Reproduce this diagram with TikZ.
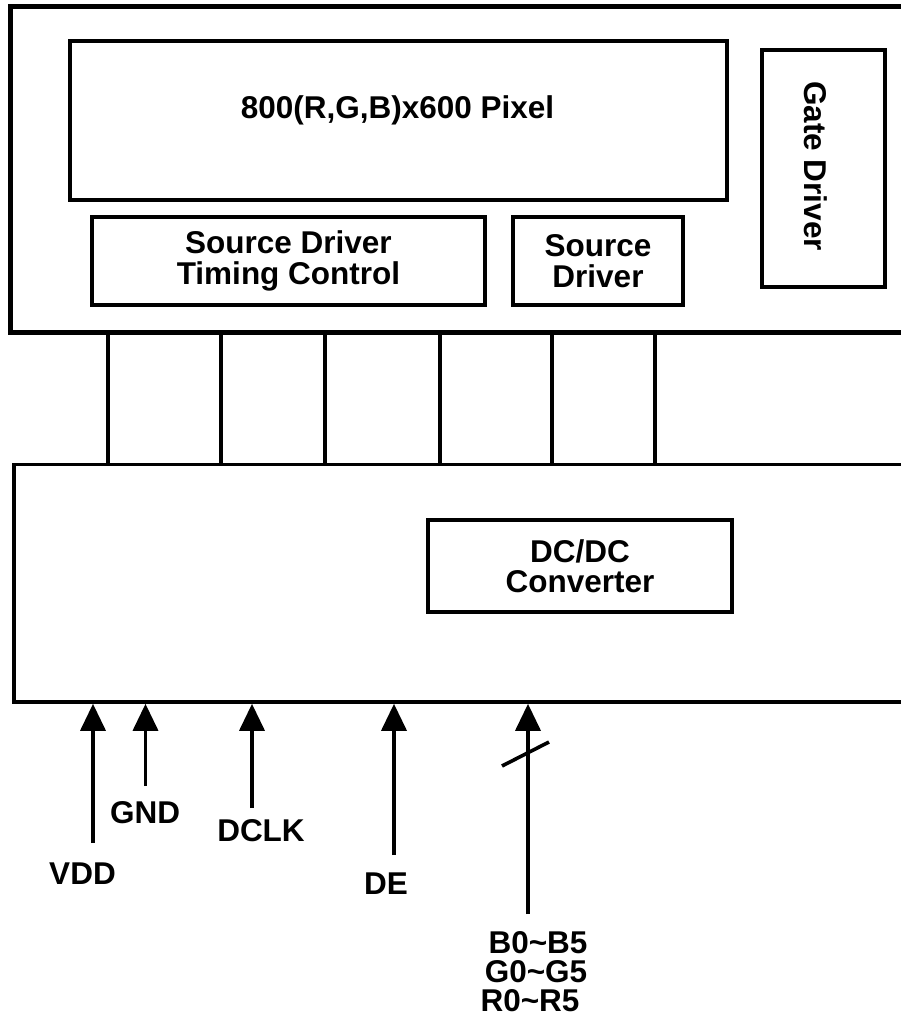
\documentclass[tikz,border=0pt]{standalone}
\usepackage{fontspec}
\setmainfont{Liberation Sans}
\usetikzlibrary{arrows.meta}

\tikzset{
  blk/.style={draw, line width=3.6pt, inner sep=0pt, align=center},
  frame/.style={draw, line width=#1, inner sep=0pt},
  wire/.style={line width=3.6pt},
  sig/.style={line width=3.6pt, -{Triangle[length=27pt,width=25pt]}},
  lbl/.style={inner sep=0pt}
}

\begin{document}
\begin{tikzpicture}[x=1pt, y=-1pt, font=\fontsize{31.5}{30.5}\selectfont\bfseries]
    \useasboundingbox (0,0) rectangle (901,1021);

    % Panel and its blocks
    \node[frame=5pt, minimum width=940, minimum height=326] (panel) at (480,169) {};
    \node[blk, minimum width=657, minimum height=159] (pixel) at (398.5,120.5) {};
    \node[lbl] (pixtxt) at (397.5,110) {800(R,G,B)x600 Pixel};
    \node[blk, minimum width=123, minimum height=237] (gate) at (823.5,168.5) {};
    \node[lbl, rotate=-90] (gatetxt) at (816,166) {Gate Driver};
    \node[blk, minimum width=393, minimum height=88] (sdtc) at (288.5,261) {Source Driver\\Timing Control};
    \node[blk, minimum width=170, minimum height=88] (sd) at (598,261) {Source\\Driver};

    % Board with DC/DC
    \node[frame=3.6pt, minimum width=936, minimum height=237.5] (board) at (482,583.25) {};
    \node[blk, minimum width=304, minimum height=92] (dcdc) at (580,566) {DC/DC\\Converter};

    % Panel to board connections
    \foreach \x [count=\i] in {108,221,325,440,552,655} {
        \coordinate (tap\i) at (\x,400);
        \draw[wire] (tap\i |- panel.south) -- (tap\i |- board.north);
    }

    % Input signals
    \coordinate (vddin) at (93,843);
    \coordinate (gndin) at (145.5,786);
    \coordinate (clkin) at (252,808);
    \coordinate (dein) at (394,855);
    \coordinate (rgbin) at (528,914);
    \foreach \s in {vddin,gndin,clkin,dein,rgbin}
        \draw[sig] (\s) -- (\s |- board.south);
    \draw[wire] (502,766) -- (549,742); % bus mark

    \node[lbl] (vdd) at (82.5,873.5) {VDD};
    \node[lbl] (gnd) at (145,812.5) {GND};
    \node[lbl] (dclk) at (261,831) {DCLK};
    \node[lbl] (de) at (386,883.5) {DE};
    \node[lbl] (bsig) at (538,943) {B0\textasciitilde B5};
    \node[lbl] (gsig) at (536,972) {G0\textasciitilde G5};
    \node[lbl] (rsig) at (530,1001) {R0\textasciitilde R5};
\end{tikzpicture}
\end{document}
